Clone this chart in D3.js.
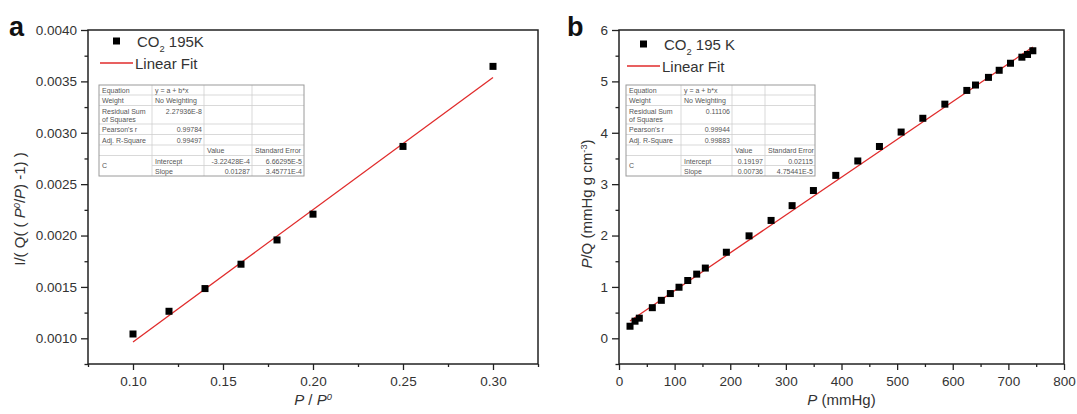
<!DOCTYPE html>
<html>
<head>
<meta charset="utf-8">
<script src="https://cdn.jsdelivr.net/npm/d3@7"></script>
<style>
  body { margin: 0; background: #fff; }
  text { font-family: Arial, "Liberation Sans", sans-serif; }
</style>
</head>
<body>
<div id="chart"></div>
<script>
// ---------- panel a : BET-type plot ----------
const relPressureA = [0.10, 0.12, 0.14, 0.16, 0.18, 0.20, 0.25, 0.30];
const invQA = [0.001042, 0.001263, 0.001484, 0.001721, 0.001957, 0.002208, 0.002867, 0.003646];
const fitInterceptA = -3.22428e-4;
const fitSlopeA = 0.01287;
const xTicksA = [0.10, 0.15, 0.20, 0.25, 0.30];
const xMinorA = [0.075, 0.125, 0.175, 0.225, 0.275, 0.325];
const yTicksA = [0.0010, 0.0015, 0.0020, 0.0025, 0.0030, 0.0035, 0.0040];
const yMinorA = [0.00075, 0.00125, 0.00175, 0.00225, 0.00275, 0.00325, 0.00375];
const tableA = [
  ["Equation", "y = a + b*x", "", ""],
  ["Weight", "No Weighting", "", ""],
  ["Residual Sum|of Squares", "2.27936E-8", "", ""],
  ["Pearson's r", "0.99784", "", ""],
  ["Adj. R-Square", "0.99497", "", ""],
  ["", "", "Value", "Standard Error"],
  ["C", "Intercept", "-3.22428E-4", "6.66295E-5"],
  ["", "Slope", "0.01287", "3.45771E-4"]
];

// ---------- panel b : Langmuir-type plot ----------
const pressureB = [19.8, 28.8, 36.5, 59.9, 76.1, 92.3, 107.9, 123.6, 139.7, 155.2, 193.0, 233.8, 273.4, 311.2,
  349.5, 389.7, 429.3, 468.2, 507.2, 546.2, 585.8, 625.3, 640.9, 664.2, 683.5, 703.8, 724.3, 734.4, 744.0];
const pOverQB = [0.235, 0.333, 0.392, 0.596, 0.739, 0.871, 0.994, 1.125, 1.249, 1.367, 1.675, 1.994, 2.294, 2.582,
  2.876, 3.171, 3.451, 3.733, 4.014, 4.282, 4.557, 4.824, 4.929, 5.078, 5.216, 5.353, 5.471, 5.524, 5.596];
const fitInterceptB = 0.19197;
const fitSlopeB = 0.00736;
const xTicksB = [0, 100, 200, 300, 400, 500, 600, 700, 800];
const xMinorB = [50, 150, 250, 350, 450, 550, 650, 750];
const yTicksB = [0, 1, 2, 3, 4, 5, 6];
const yMinorB = [-0.5, 0.5, 1.5, 2.5, 3.5, 4.5, 5.5];
const tableB = [
  ["Equation", "y = a + b*x", "", ""],
  ["Weight", "No Weighting", "", ""],
  ["Residual Sum|of Squares", "0.11106", "", ""],
  ["Pearson's r", "0.99944", "", ""],
  ["Adj. R-Square", "0.99883", "", ""],
  ["", "", "Value", "Standard Error"],
  ["C", "Intercept", "0.19197", "0.02115"],
  ["", "Slope", "0.00736", "4.75441E-5"]
];

const W = 1077, H = 414;
const ink = "#222", txt = "#333";

const svg = d3.select("#chart").append("svg")
  .attr("width", W)
  .attr("height", H);

// write a label made of parts: {t, i (italic), sup, sub}
function richText(sel, parts, size) {
  parts.forEach(p => {
    const ts = sel.append("tspan").text(p.t);
    if (p.i) ts.style("font-style", "italic");
    if (p.sup) ts.attr("baseline-shift", "super").style("font-size", (size * 0.62) + "px");
    if (p.sub) ts.attr("baseline-shift", "sub").style("font-size", (size * 0.62) + "px");
  });
}

function drawTable(g, rows, x0, y0, colW) {
  const rowEdges = [0, 10, 20.5, 39, 49.5, 60, 70.5, 80.5, 91];
  const colEdges = [0];
  colW.forEach(w => colEdges.push(colEdges[colEdges.length - 1] + w));
  const tw = colEdges[colEdges.length - 1];
  const t = g.append("g").attr("transform", "translate(" + x0 + "," + y0 + ")");

  // inner lines
  rowEdges.slice(1, -1).forEach((ry, i) => {
    // line between Intercept and Slope does not cross the merged "C" cell
    const startX = (i === 6) ? colEdges[1] : 0;
    t.append("line").attr("x1", startX).attr("x2", tw).attr("y1", ry).attr("y2", ry)
      .attr("stroke", "#cfcfcf").attr("stroke-width", 0.8);
  });
  colEdges.slice(1, -1).forEach(cx => {
    t.append("line").attr("x1", cx).attr("x2", cx).attr("y1", 0).attr("y2", rowEdges[rowEdges.length - 1])
      .attr("stroke", "#cfcfcf").attr("stroke-width", 0.8);
  });
  t.append("rect").attr("width", tw).attr("height", rowEdges[rowEdges.length - 1])
    .attr("fill", "none").attr("stroke", "#9a9a9a").attr("stroke-width", 1);

  rows.forEach((r, ri) => {
    r.forEach((cell, ci) => {
      if (!cell) return;
      const left = colEdges[ci], right = colEdges[ci + 1];
      const top = rowEdges[ri];
      // right-align numbers, left-align words and headers
      const isNum = /^-?[0-9]/.test(cell) && !(ci === 1 && ri === 0);
      const lines = cell.split("|");
      let baseY = top + 8;
      if (ci === 0 && ri === 6) baseY = rowEdges[7] + 2.5;
      lines.forEach((ln, li) => {
        t.append("text")
          .attr("x", isNum ? right - 2 : left + 3)
          .attr("y", baseY + li * 8.5)
          .attr("text-anchor", isNum ? "end" : "start")
          .style("font-size", "7px")
          .style("fill", "#555")
          .text(ln);
      });
    });
  });
}

function drawPanel(cfg) {
  const g = svg.append("g");
  const x = d3.scaleLinear().domain(cfg.xDomain).range([cfg.left, cfg.right]);
  const y = d3.scaleLinear().domain(cfg.yDomain).range([cfg.bottom, cfg.top]);

  // x axis, major and minor ticks
  g.append("g")
    .attr("transform", "translate(0," + cfg.bottom + ")")
    .call(d3.axisBottom(x).tickValues(cfg.xTicks).tickSize(6).tickPadding(6).tickFormat(cfg.xFormat))
    .call(a => a.select(".domain").remove())
    .call(a => a.selectAll("line").attr("stroke", ink).attr("stroke-width", 1.3))
    .call(a => a.selectAll("text").style("font-size", "13.5px").style("fill", txt).attr("font-family", null));
  g.append("g")
    .attr("transform", "translate(0," + cfg.bottom + ")")
    .call(d3.axisBottom(x).tickValues(cfg.xMinor).tickSize(3).tickFormat(""))
    .call(a => a.select(".domain").remove())
    .call(a => a.selectAll("line").attr("stroke", ink).attr("stroke-width", 1.3));

  // y axis, major and minor ticks
  g.append("g")
    .attr("transform", "translate(" + cfg.left + ",0)")
    .call(d3.axisLeft(y).tickValues(cfg.yTicks).tickSize(7).tickPadding(4).tickFormat(cfg.yFormat))
    .call(a => a.select(".domain").remove())
    .call(a => a.selectAll("line").attr("stroke", ink).attr("stroke-width", 1.3))
    .call(a => a.selectAll("text").style("font-size", "13.5px").style("fill", txt).attr("font-family", null));
  g.append("g")
    .attr("transform", "translate(" + cfg.left + ",0)")
    .call(d3.axisLeft(y).tickValues(cfg.yMinor).tickSize(3.5).tickFormat(""))
    .call(a => a.select(".domain").remove())
    .call(a => a.selectAll("line").attr("stroke", ink).attr("stroke-width", 1.3));

  // frame
  g.append("rect")
    .attr("x", cfg.left).attr("y", cfg.top)
    .attr("width", cfg.right - cfg.left).attr("height", cfg.bottom - cfg.top)
    .attr("fill", "none").attr("stroke", ink).attr("stroke-width", 1.5);

  // linear fit over the data range
  const xr = d3.extent(cfg.xs);
  const fitLine = d3.line().x(d => x(d)).y(d => y(cfg.intercept + cfg.slope * d));
  g.append("path")
    .datum(xr)
    .attr("d", fitLine)
    .attr("fill", "none")
    .attr("stroke", "#e02b2b")
    .attr("stroke-width", 1.3);

  // data markers
  const ms = 7;
  g.selectAll(".markerRect")
    .data(cfg.xs.map((v, i) => [v, cfg.ys[i]]))
    .join("rect")
    .attr("class", "markerRect")
    .attr("x", d => x(d[0]) - ms / 2)
    .attr("y", d => y(d[1]) - ms / 2)
    .attr("width", ms).attr("height", ms)
    .attr("fill", "#000");

  // legend
  const lg = cfg.legend;
  g.append("rect").attr("x", lg.x + 13).attr("y", lg.y - 3.5).attr("width", 7).attr("height", 7).attr("fill", "#000");
  const t1 = g.append("text").attr("x", lg.x + 37).attr("y", lg.y + 5.5).style("font-size", "15px").style("fill", txt);
  richText(t1, [{t: "CO"}, {t: "2", sub: true}, {t: cfg.legendTemp}], 15);
  g.append("line").attr("x1", lg.x).attr("x2", lg.x + 33).attr("y1", lg.y + 22).attr("y2", lg.y + 22)
    .attr("stroke", "#e02b2b").attr("stroke-width", 1.3);
  g.append("text").attr("x", lg.x + 35).attr("y", lg.y + 27.5).style("font-size", "15px").style("fill", txt).text("Linear Fit");

  drawTable(g, cfg.table, cfg.tableX, 85, cfg.colW);

  // axis titles
  const xt = g.append("text").attr("x", (cfg.left + cfg.right) / 2).attr("y", 405)
    .attr("text-anchor", "middle").style("font-size", "15px").style("fill", txt);
  richText(xt, cfg.xTitle, 15);
  const yt = g.append("text")
    .attr("transform", "translate(" + cfg.yTitleX + "," + cfg.yTitleY + ") rotate(-90)")
    .attr("text-anchor", "middle").style("font-size", "15px").style("fill", txt);
  richText(yt, cfg.yTitle, 15);

  // panel letter
  g.append("text").attr("x", cfg.letterX).attr("y", 36)
    .style("font-size", "27px").style("font-weight", "bold").style("fill", "#111").text(cfg.letter);
}

drawPanel({
  left: 88, right: 538, top: 30, bottom: 364,
  xDomain: [0.075, 0.325], yDomain: [0.00075, 0.0040],
  xTicks: xTicksA, xMinor: xMinorA, yTicks: yTicksA, yMinor: yMinorA,
  xFormat: d3.format(".2f"), yFormat: d3.format(".4f"),
  xs: relPressureA, ys: invQA,
  intercept: fitInterceptA, slope: fitSlopeA,
  legend: {x: 100, y: 41}, legendTemp: " 195K",
  table: tableA, tableX: 99, colW: [53, 52, 48, 52],
  xTitle: [{t: "P", i: true}, {t: " / "}, {t: "P", i: true}, {t: "0", i: true, sup: true}],
  yTitle: [{t: "I/( Q( ( "}, {t: "P", i: true}, {t: "0", i: true, sup: true}, {t: "/"}, {t: "P", i: true}, {t: ") -1) )"}],
  yTitleX: 25, yTitleY: 209,
  letter: "a", letterX: 9
});

drawPanel({
  left: 619, right: 1064, top: 30, bottom: 364,
  xDomain: [0, 800], yDomain: [-0.5, 6],
  xTicks: xTicksB, xMinor: xMinorB, yTicks: yTicksB, yMinor: yMinorB,
  xFormat: d3.format("d"), yFormat: d3.format("d"),
  xs: pressureB, ys: pOverQB,
  intercept: fitInterceptB, slope: fitSlopeB,
  legend: {x: 627, y: 44}, legendTemp: " 195 K",
  table: tableB, tableX: 626, colW: [55, 51, 33, 50],
  xTitle: [{t: "P", i: true}, {t: " (mmHg)"}],
  yTitle: [{t: "P", i: true}, {t: "/Q (mmHg g cm"}, {t: "-3", sup: true}, {t: ")"}],
  yTitleX: 592, yTitleY: 204,
  letter: "b", letterX: 567
});
</script>
</body>
</html>
